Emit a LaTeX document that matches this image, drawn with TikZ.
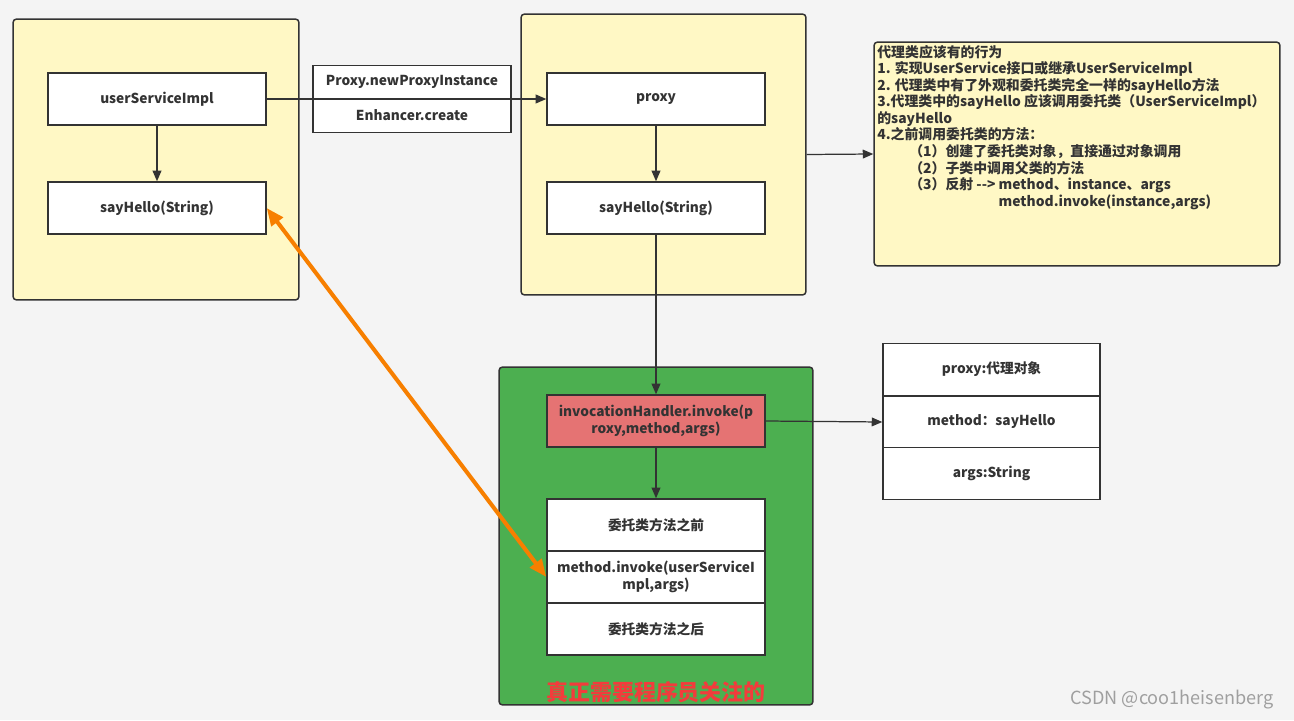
\documentclass[tikz,border=0pt]{standalone}
\usepackage{fontspec}
\setmainfont{Noto Sans CJK SC}
\usetikzlibrary{arrows.meta}

\definecolor{bgGray}{HTML}{F4F4F4}
\definecolor{lineGray}{HTML}{333333}
\definecolor{paleYellow}{HTML}{FFF8C5}
\definecolor{boxGreen}{HTML}{4CAF50}
\definecolor{boxRed}{HTML}{E57373}
\definecolor{hotOrange}{HTML}{F77F00}
\definecolor{alertRed}{HTML}{F23C3C}

\tikzset{
  panel/.style={draw=lineGray, line width=0.85pt, rounded corners=2pt},
  cell/.style={draw=lineGray, line width=0.85pt, fill=white, minimum width=4.36cm,
    minimum height=1.04cm, inner sep=1pt, align=center, text=lineGray,
    font=\fontsize{7.8}{10}\selectfont\bfseries},
  link/.style={draw=lineGray, line width=0.7pt, -{Triangle[length=6pt,width=5pt]}},
}

\begin{document}
\begin{tikzpicture}[x=0.02cm, y=-0.02cm]
        % Background
        \fill[bgGray] (0,0) rectangle (1294,720);

        % Define panels
        \node[panel, fill=paleYellow, minimum width=5.72cm, minimum height=5.62cm] (leftPanel) at (156,159.5) {};
        \node[panel, fill=paleYellow, minimum width=5.7cm, minimum height=5.62cm] (midPanel) at (663.5,154.5) {};
        \node[panel, fill=paleYellow, minimum width=8.12cm, minimum height=4.48cm] (note) at (1077,154) {};
        \node[panel, fill=boxGreen, minimum width=6.28cm, minimum height=6.76cm] (focusPanel) at (656,536) {};

        % Define nodes
        \node[cell] (impl) at (157,99) {userServiceImpl};
        \node[cell] (implHello) at (157,208) {sayHello(String)};

        \node[cell, minimum width=3.96cm, minimum height=0.67cm] (newInst) at (412,82) {Proxy.newProxyInstance};
        \node[cell, minimum width=3.96cm, minimum height=0.67cm] (enhCreate) at (412,115.5) {Enhancer.create};

        \node[cell] (proxy) at (656,99) {proxy};
        \node[cell] (proxyHello) at (656,208) {sayHello(String)};

        \node[cell, fill=boxRed] (invoke) at (656,421) {invocationHandler.invoke(p\\roxy,method,args)};
        \node[cell] (before) at (656,525) {委托类方法之前};
        \node[cell] (callCell) at (656,577) {method.invoke(userServiceI\\mpl,args)};
        \node[cell] (after) at (656,629) {委托类方法之后};
        \node[text=alertRed, font=\fontsize{12.5}{14}\selectfont\bfseries] (focus) at (656,692) {真正需要程序员关注的};

        \node[cell, minimum width=4.34cm] (argProxy) at (991.5,369.5) {proxy:代理对象};
        \node[cell, minimum width=4.34cm] (argMethod) at (991.5,422) {method：sayHello};
        \node[cell, minimum width=4.34cm] (argArgs) at (991.5,473.5) {args:String};

        \node[anchor=north west, inner sep=0pt, align=left, text=lineGray,
              font=\fontsize{7.9}{9.4}\selectfont\bfseries] (noteText) at (877,45) {%
          代理类应该有的行为\\
          1. 实现UserService接口或继承UserServiceImpl\\
          2. 代理类中有了外观和委托类完全一样的sayHello方法\\
          3.代理类中的sayHello 应该调用委托类（UserServiceImpl）\\
          的sayHello\\
          4.之前调用委托类的方法：\\
          \hspace*{2.3em}（1）创建了委托类对象，直接通过对象调用\\
          \hspace*{2.3em}（2）子类中调用父类的方法\\
          \hspace*{2.3em}（3）反射 -{}-{}> method、instance、args\\
          \hspace*{2.3em}\phantom{（3）反射 -{}-{}> }method.invoke(instance,args)};

        \node[text=gray!75, font=\fontsize{10.3}{12}\selectfont] (mark) at (1172,700) {CSDN @coo1heisenberg};

        % Draw edges
        \draw[link] (impl.east) -- (proxy.west);
        \draw[link] (impl) -- (implHello);
        \draw[link] (proxy) -- (proxyHello);
        \draw[link] (proxyHello) -- (invoke);
        \draw[link] (invoke) -- (before);
        \draw[link] (invoke.east) -- (argMethod.west);
        \draw[link] (midPanel.east) -- (note.west);
        \draw[hotOrange, line width=2.3pt, {Triangle[length=10pt,width=8pt]}-{Triangle[length=10pt,width=8pt]}]
            (implHello.east) -- (callCell.west);
\end{tikzpicture}
\end{document}
